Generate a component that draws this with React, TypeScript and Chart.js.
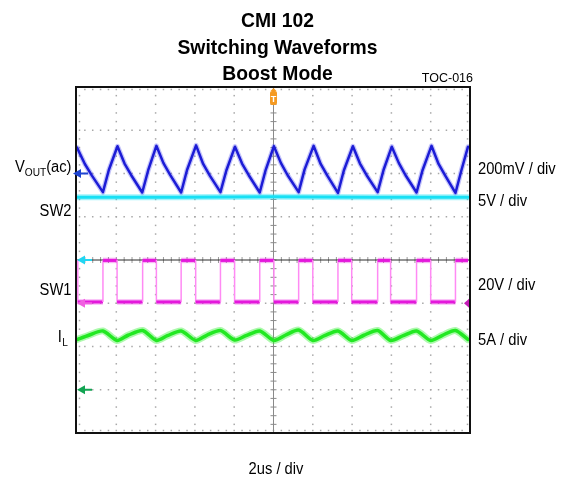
import React, { useEffect, useRef } from 'react';
import { Chart, registerables } from 'chart.js';

Chart.register(...registerables);

// ---- Data (time in divisions of 2us, level in screen divisions) ----
const voutT = [0, 0.2, 0.38, 0.66, 0.81, 1.03, 1.21, 1.38, 1.66, 1.81, 2.02, 2.2, 2.37, 2.65, 2.8, 3.03, 3.21, 3.38, 3.65, 3.8, 4.02, 4.2, 4.37, 4.65, 4.8, 5.01, 5.19, 5.36, 5.64, 5.79, 6.02, 6.2, 6.37, 6.64, 6.79, 7.02, 7.2, 7.37, 7.65, 7.8, 8.01, 8.19, 8.36, 8.64, 8.79, 9.02, 9.2, 9.37, 9.63, 9.78, 9.95];
const voutV = [2.6, 2.22, 1.95, 1.57, 2.08, 2.63, 2.23, 1.96, 1.56, 2.07, 2.64, 2.24, 1.97, 1.56, 2.08, 2.65, 2.22, 1.95, 1.57, 2.07, 2.62, 2.23, 1.96, 1.56, 2.08, 2.63, 2.24, 1.96, 1.57, 2.09, 2.64, 2.22, 1.95, 1.55, 2.07, 2.63, 2.23, 1.96, 1.57, 2.08, 2.62, 2.24, 1.96, 1.56, 2.07, 2.64, 2.22, 1.95, 1.55, 2.07, 2.62];

const sw2T = [0, 2.5, 5, 7.5, 9.95];
const sw2V = [1.45, 1.45, 1.46, 1.45, 1.45];

const sw1T = [0, 0.02, 0.66, 1.02, 1.67, 2.02, 2.65, 3.02, 3.65, 4.01, 4.65, 5.01, 5.64, 6.0, 6.64, 6.99, 7.65, 7.98, 8.64, 9.0, 9.63, 9.95];
const sw1V = [-0.01, -0.97, -0.01, -0.97, -0.01, -0.97, -0.01, -0.97, -0.01, -0.97, -0.01, -0.97, -0.01, -0.97, -0.01, -0.97, -0.01, -0.97, -0.01, -0.97, -0.01, -0.01];

const ilT = [0, 0.3, 0.66, 1.02, 1.3, 1.67, 2.02, 2.3, 2.65, 3.02, 3.3, 3.65, 4.01, 4.3, 4.65, 5.01, 5.3, 5.64, 6.0, 6.3, 6.64, 6.99, 7.3, 7.65, 7.98, 8.3, 8.64, 9.0, 9.3, 9.63, 9.95];
const ilV = [-1.84, -1.74, -1.64, -1.86, -1.74, -1.63, -1.86, -1.75, -1.64, -1.86, -1.74, -1.63, -1.85, -1.75, -1.64, -1.86, -1.74, -1.62, -1.86, -1.75, -1.64, -1.86, -1.74, -1.63, -1.86, -1.75, -1.64, -1.86, -1.74, -1.63, -1.84];

// ground / reference markers (level in divisions)
const markerLevels = [2, 0, -1, -3];
const markerColors = ['#1f45d2', '#22d6f2', '#f060e0', '#12a452'];

const titleLines = ['CMI 102', 'Switching Waveforms', 'Boost Mode'];
const leftLabels = ['SW2', 'SW1'];
const rightLabels = ['200mV / div', '5V / div', '20V / div', '5A / div'];
const timeLabel = '2us / div';
const tocLabel = 'TOC-016';

const FONT = "'Liberation Sans', Arial, sans-serif";
const SQUEEZE = 0.92;

function pts(t: number[], v: number[]) {
  return t.map((x, i) => ({ x, y: v[i] }));
}

function stepPts(t: number[], v: number[]) {
  const out: { x: number; y: number }[] = [];
  for (let i = 0; i < t.length; i++) {
    out.push({ x: t[i], y: v[i] });
    if (i < t.length - 1 && v[i + 1] !== v[i]) out.push({ x: t[i + 1], y: v[i] });
  }
  return out;
}

function squeezedText(ctx: CanvasRenderingContext2D, s: string, x: number, y: number, k = SQUEEZE) {
  const w = ctx.measureText(s).width;
  ctx.fillText(s, x, y, w * k);
  return w * k;
}

const gridPlugin = {
  id: 'scopeGrid',
  beforeDatasetsDraw(chart: any) {
    const { ctx, chartArea: a, scales } = chart;
    const xs = scales.x, ys = scales.y;
    ctx.save();
    ctx.fillStyle = '#a8a8a8';
    const dot = (x: number, y: number) => ctx.fillRect(x - 0.75, y - 0.75, 1.5, 1.5);
    for (let i = 1; i < 10; i++) {
      if (i === 5) continue;
      const x = xs.getPixelForValue(i);
      for (let k = 1; k < 40; k++) dot(x, ys.getPixelForValue(-4 + k * 0.2));
    }
    for (let j = -3; j <= 3; j++) {
      if (j === 0) continue;
      const y = ys.getPixelForValue(j);
      for (let k = 1; k < 50; k++) dot(xs.getPixelForValue(k * 0.2), y);
    }
    for (let k = 1; k < 50; k++) {
      const x = xs.getPixelForValue(k * 0.2);
      dot(x, a.top + 2.5);
      dot(x, a.bottom - 2.5);
    }
    for (let k = 1; k < 40; k++) {
      const y = ys.getPixelForValue(-4 + k * 0.2);
      dot(a.left + 2.5, y);
      dot(a.right - 2.5, y);
    }
    const cy = ys.getPixelForValue(0);
    const cx = xs.getPixelForValue(5);
    ctx.lineWidth = 1;
    ctx.strokeStyle = '#8a8a8a';
    ctx.beginPath();
    ctx.moveTo(cx, a.top);
    ctx.lineTo(cx, a.bottom);
    for (let k = 1; k < 40; k++) {
      const y = ys.getPixelForValue(-4 + k * 0.2);
      ctx.moveTo(cx - 3, y);
      ctx.lineTo(cx + 3, y);
    }
    ctx.stroke();
    ctx.strokeStyle = '#9a9a9a';
    ctx.beginPath();
    for (let k = 1; k < 50; k++) {
      const x = xs.getPixelForValue(k * 0.2);
      ctx.moveTo(x, cy - 3);
      ctx.lineTo(x, cy + 3);
    }
    ctx.stroke();
    ctx.strokeStyle = '#2a2a2a';
    ctx.beginPath();
    ctx.moveTo(a.left, cy);
    ctx.lineTo(a.right, cy);
    ctx.stroke();
    ctx.restore();
  },
  afterDatasetsDraw(chart: any) {
    const { ctx, chartArea: a, scales } = chart;
    const xs = scales.x, ys = scales.y;
    ctx.save();
    ctx.strokeStyle = '#111';
    ctx.lineWidth = 2;
    ctx.strokeRect(a.left - 1, a.top, a.right - a.left + 1, a.bottom - a.top);
    markerLevels.forEach((lv, i) => {
      const y = ys.getPixelForValue(lv);
      const tip = i === 0 ? a.left - 4 : a.left;
      ctx.fillStyle = markerColors[i];
      ctx.beginPath();
      ctx.moveTo(tip, y);
      ctx.lineTo(tip + 8, y - 4.5);
      ctx.lineTo(tip + 8, y + 4.5);
      ctx.closePath();
      ctx.fill();
      ctx.fillRect(tip + 7, y - 1, 8, 2);
    });
    const ym = ys.getPixelForValue(markerLevels[2]);
    ctx.fillStyle = '#c41cb6';
    ctx.beginPath();
    ctx.moveTo(a.right - 6, ym);
    ctx.lineTo(a.right - 1, ym - 4.5);
    ctx.lineTo(a.right - 1, ym + 4.5);
    ctx.closePath();
    ctx.fill();
    const tx = xs.getPixelForValue(5);
    ctx.fillStyle = '#f59a22';
    ctx.beginPath();
    ctx.moveTo(tx, a.top + 1);
    ctx.lineTo(tx - 3, a.top + 4);
    ctx.lineTo(tx + 3, a.top + 4);
    ctx.closePath();
    ctx.fill();
    ctx.beginPath();
    ctx.roundRect(tx - 3.5, a.top + 4, 7, 14, 2);
    ctx.fill();
    ctx.fillStyle = '#fff';
    ctx.font = `bold 9px ${FONT}`;
    ctx.textAlign = 'center';
    ctx.textBaseline = 'alphabetic';
    ctx.fillText('T', tx, a.top + 15);
    ctx.restore();
  },
  afterDraw(chart: any) {
    const { ctx } = chart;
    ctx.save();
    ctx.fillStyle = '#000';
    ctx.textBaseline = 'alphabetic';
    ctx.font = `bold 21px ${FONT}`;
    ctx.textAlign = 'center';
    const tb = [26.5, 54, 80];
    titleLines.forEach((s, i) => squeezedText(ctx, s, 277.5, tb[i]));
    ctx.font = `12.5px ${FONT}`;
    ctx.textAlign = 'right';
    ctx.fillText(tocLabel, 473, 82);
    ctx.font = `16px ${FONT}`;
    ctx.textAlign = 'right';
    let x = 71.5;
    x -= squeezedText(ctx, '(ac)', x, 172);
    ctx.font = `11px ${FONT}`;
    x -= squeezedText(ctx, 'OUT', x, 176);
    ctx.font = `16px ${FONT}`;
    squeezedText(ctx, 'V', x, 172);
    const lb = [215.5, 295];
    leftLabels.forEach((s, i) => squeezedText(ctx, s, 71.5, lb[i]));
    ctx.font = `11px ${FONT}`;
    x = 68;
    x -= squeezedText(ctx, 'L', x, 345.5);
    ctx.font = `16px ${FONT}`;
    squeezedText(ctx, 'I', x - 0.5, 342);
    ctx.textAlign = 'left';
    const rb = [174, 205.5, 290, 345];
    rightLabels.forEach((s, i) => squeezedText(ctx, s, 478, rb[i]));
    ctx.textAlign = 'center';
    squeezedText(ctx, timeLabel, 276, 474);
    ctx.restore();
  },
};

export default function App() {
  const ref = useRef<HTMLCanvasElement | null>(null);
  useEffect(() => {
    if (!ref.current) return;
    const base = { pointRadius: 0, tension: 0, fill: false, borderCapStyle: 'round', borderJoinStyle: 'round' };
    const chart = new Chart(ref.current, {
      type: 'line',
      data: {
        datasets: [
          { ...base, data: pts(voutT, voutV), borderColor: '#1c1cd6', borderWidth: 2.5, order: 1 },
          { ...base, data: pts(voutT, voutV), borderColor: 'rgba(60,60,240,0.3)', borderWidth: 5, order: 2 },
          { ...base, data: pts(sw2T, sw2V), borderColor: '#18e0f4', borderWidth: 3, order: 3 },
          { ...base, data: pts(sw2T, sw2V), borderColor: 'rgba(20,225,245,0.4)', borderWidth: 6, order: 4 },
          {
            ...base, data: stepPts(sw1T, sw1V), borderColor: '#e418dc', borderWidth: 3, order: 5, borderCapStyle: 'butt',
            segment: {
              borderColor: (c: any) => (c.p0.parsed.x === c.p1.parsed.x ? '#ff8af4' : undefined),
              borderWidth: (c: any) => (c.p0.parsed.x === c.p1.parsed.x ? 1.5 : undefined),
            },
          },
          {
            ...base, data: stepPts(sw1T, sw1V), borderColor: 'rgba(236,40,228,0.35)', borderWidth: 5.5, order: 6, borderCapStyle: 'butt',
            segment: {
              borderColor: (c: any) => (c.p0.parsed.x === c.p1.parsed.x ? 'rgba(0,0,0,0)' : undefined),
            },
          },
          { ...base, data: pts(ilT, ilV), borderColor: '#22e822', borderWidth: 3.5, tension: 0.25, order: 7 },
          { ...base, data: pts(ilT, ilV), borderColor: 'rgba(50,240,50,0.4)', borderWidth: 7, tension: 0.25, order: 8 },
        ],
      },
      options: {
        responsive: false,
        devicePixelRatio: 1,
        animation: false,
        events: [],
        layout: { padding: { left: 77, right: 97, top: 87, bottom: 51 } },
        plugins: { legend: { display: false }, tooltip: { enabled: false }, title: { display: false } },
        scales: {
          x: { type: 'linear', min: 0, max: 10, display: false },
          y: { type: 'linear', min: -4, max: 4, display: false },
        },
      },
      plugins: [gridPlugin],
    } as any);
    return () => chart.destroy();
  }, []);
  return (
    <div style={{ position: 'fixed', left: 0, top: 0, width: 567, height: 484, background: '#fff' }}>
      <canvas ref={ref} width={567} height={484} style={{ display: 'block', width: 567, height: 484 }} />
    </div>
  );
}
